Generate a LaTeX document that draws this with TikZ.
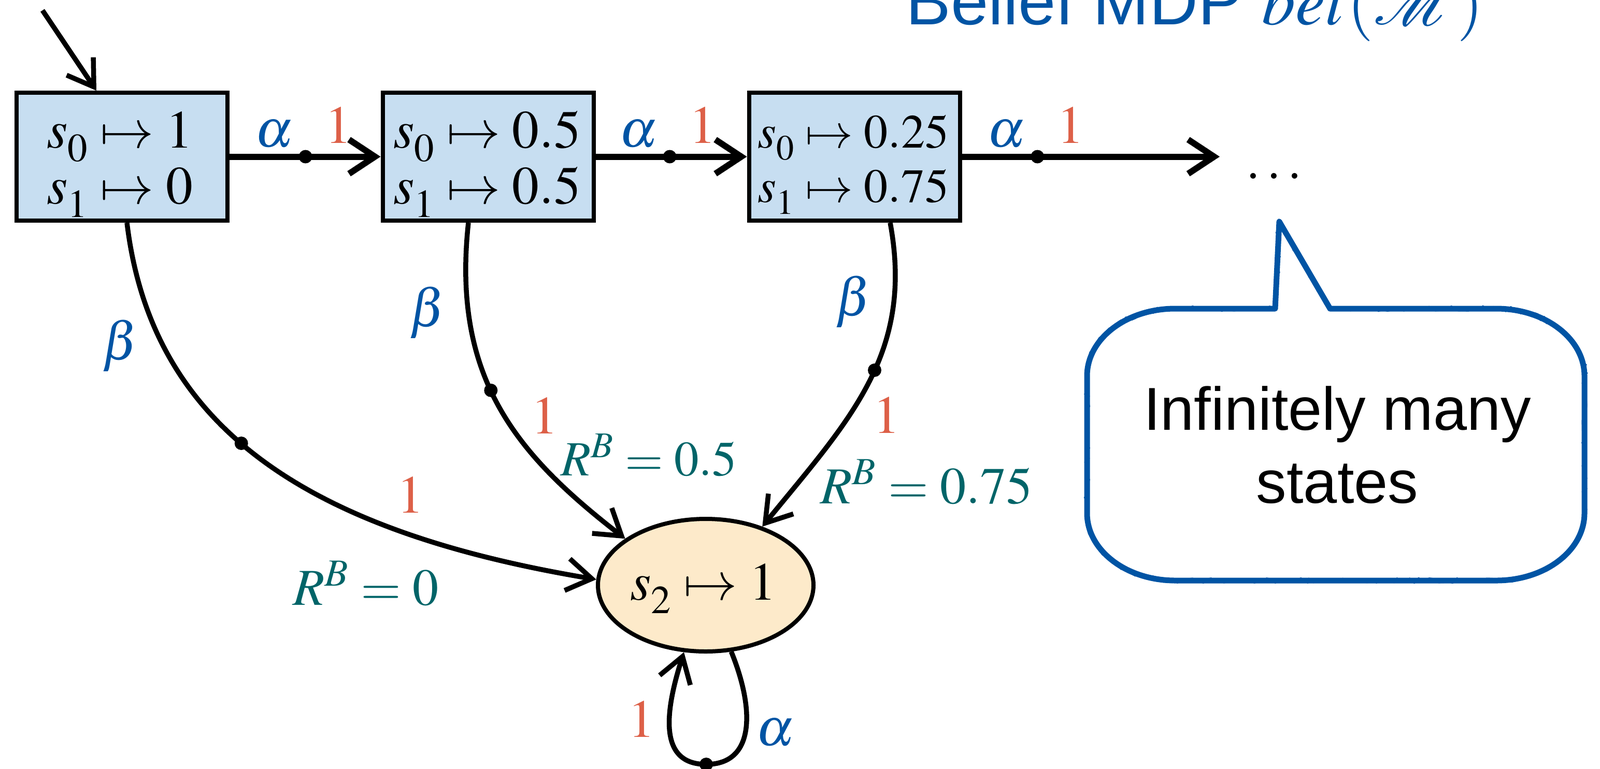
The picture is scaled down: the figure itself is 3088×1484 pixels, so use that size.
\documentclass[tikz,border=0pt]{standalone}
\usepackage{mathptmx}
\usepackage[no-math]{fontspec}
\newfontfamily\hv{Liberation Sans}
\usetikzlibrary{arrows.meta,shapes.geometric,calc,decorations.pathmorphing}
\definecolor{mblue}{RGB}{0,84,164}
\definecolor{mred}{RGB}{221,96,72}
\definecolor{mteal}{RGB}{0,100,104}
\definecolor{boxfill}{RGB}{199,222,241}
\definecolor{ellfill}{RGB}{253,234,202}
\newcommand{\fsz}[1]{\fontsize{#1}{#1}\selectfont}
\newcommand{\lsub}[1]{_{\raisebox{-0.11em}{$\scriptstyle #1$}}}
\tikzset{
  box/.style={draw, line width=0.8mm, fill=boxfill, minimum width=40.7mm, minimum height=24.7mm, inner sep=0},
  ell/.style={ellipse, draw, line width=0.8mm, fill=ellfill, minimum width=41.6mm, minimum height=25.6mm, inner sep=0},
  btxt/.style={anchor=base, inner sep=0, font=\fsz{29.45pt}},
  act/.style={text=mblue, inner sep=0, font=\fsz{29.45pt}},
  prob/.style={text=mred, inner sep=0, font=\fsz{29.45pt}},
  rew/.style={text=mteal, inner sep=0, anchor=base, font=\fsz{28.5pt}},
  harrow/.style={line width=1.2mm, -{Straight Barb[length=5mm,width=6.6mm]}},
  carrow/.style={line width=0.95mm, -{Straight Barb[length=4.8mm,width=6.2mm]}},
  dot/.style={circle, fill=black, inner sep=0, minimum size=2.6mm},
  sans/.style={inner sep=0, anchor=base, font=\hv\fsz{33.3pt}},
  bubble/.style={mblue, line width=1.1mm, line join=round},
  rough/.style={mblue, line width=0.5mm, decorate, decoration={random steps, segment length=0.8mm, amplitude=0.35mm}}
}
\begin{document}
\begin{tikzpicture}[x=0.1mm, y=-0.1mm]
\useasboundingbox (0,0) rectangle (3088,1484);

% title (cut off at top)
\node[anchor=base west, inner sep=0, text=mblue, font=\hv\fsz{37pt}] (title) at (1748,47) {Belief MDP $bel(\mathcal{M})$};

% belief states
\node[box] (b1) at (235.5,302.5) {};
\node[box] (b2) at (942,302.5) {};
\node[box] (b3) at (1649,302.5) {};
\node[btxt] (b1r0) at (231,285) {$s\lsub{0} \mapsto 1$};
\node[btxt] (b1r1) at (231,393) {$s\lsub{1} \mapsto 0$};
\node[btxt] (b2r0) at (940,285) {$s\lsub{0} \mapsto 0.5$};
\node[btxt] (b2r1) at (940,393) {$s\lsub{1} \mapsto 0.5$};
\node[btxt, font=\fsz{26.2pt}] (b3r0) at (1647,285) {$s\lsub{0} \mapsto 0.25$};
\node[btxt, font=\fsz{26.2pt}] (b3r1) at (1647,390) {$s\lsub{1} \mapsto 0.75$};

\node[ell] (s2) at (1362,1130) {};
\node[btxt] (s2t) at (1357,1158) {$s\lsub{2} \mapsto 1$};

% initial arrow
\coordinate (init) at (82,20);
\draw[carrow] (init) -- ([xshift=-4.95mm]b1.north);

% alpha transitions
\coordinate (far) at (2354,302.5);
\draw[harrow] (b1.east) -- node[dot,pos=0.503] (d12) {} (b2.west);
\draw[harrow] (b2.east) -- node[dot,pos=0.49] (d23) {} (b3.west);
\draw[harrow] (b3.east) -- node[dot,pos=0.293] (d3f) {} (far);
\node[act, anchor=base] (a12) at ($(d12)+(-60,-19.5)$) {$\alpha$};
\node[prob, anchor=base] (p12) at ($(d12)+(64,-26.5)$) {$1$};
\node[act, anchor=base] (a23) at ($(d23)+(-60,-19.5)$) {$\alpha$};
\node[prob, anchor=base] (p23) at ($(d23)+(64,-26.5)$) {$1$};
\node[act, anchor=base] (a3f) at ($(d3f)+(-60,-19.5)$) {$\alpha$};
\node[prob, anchor=base] (p3f) at ($(d3f)+(64,-26.5)$) {$1$};
\node[btxt] (dots) at (2459,345) {$\ldots$};

% beta transitions
\draw[carrow] ([xshift=0.95mm]b1.south) .. controls (293,831) and (600,1027) .. (s2.177) node[dot,pos=0.45] (d1s) {};
\draw[carrow] ([xshift=-3.8mm]b2.south) .. controls (871,733) and (1000,880) .. (s2.150) node[dot,pos=0.44] (d2s) {};
\draw[carrow] ([xshift=6.9mm]b3.south) .. controls (1765,684) and (1638,812) .. (s2.46) node[dot,pos=0.45] (d3s) {};

\node[act] (be1) at (232,668) {$\beta$};
\node[act] (be2) at (825,604) {$\beta$};
\node[act] (be3) at (1647,583) {$\beta$};
\node[prob] (q1) at (792,956) {$1$};
\node[prob] (q2) at (1051,803) {$1$};
\node[prob] (q3) at (1711,802) {$1$};
\node[rew] (r1) at (706,1168) {$R^B = 0$};
\node[rew, anchor=base west, font=\fsz{27pt}] (r2) at (1082,918) {$R^B = 0.5$};
\node[rew] (r3) at (1788,972) {$R^B = 0.75$};

% self loop
\coordinate (lb) at (1363,1476);
\draw[carrow] (s2.-69) .. controls +(45,110) and +(95,0) .. (lb) .. controls +(-95,0) and +(-35,110) .. (s2.-108);
\node[dot] (ld) at (lb) {};
\node[prob] (l1) at (1238,1389) {$1$};
\node[act] (la) at (1496,1415) {$\alpha$};

% speech bubble
\draw[bubble]
  (2268,596) -- (2461,596) -- (2469,428) -- (2567,596) -- (2888,596)
  .. controls (2982,596) and (3058,654) .. (3058,726)
  -- (3058,991)
  .. controls (3058,1063) and (2982,1121) .. (2888,1121)
  -- (2268,1121)
  .. controls (2174,1121) and (2098,1063) .. (2098,991)
  -- (2098,726)
  .. controls (2098,654) and (2174,596) .. (2268,596) -- cycle;
\draw[rough]
  (2268,596) -- (2461,596) -- (2469,428) -- (2567,596) -- (2888,596)
  .. controls (2982,596) and (3058,654) .. (3058,726)
  -- (3058,991)
  .. controls (3058,1063) and (2982,1121) .. (2888,1121)
  -- (2268,1121)
  .. controls (2174,1121) and (2098,1063) .. (2098,991)
  -- (2098,726)
  .. controls (2098,654) and (2174,596) .. (2268,596) -- cycle;
\node[sans] (bt1) at (2581,830) {Infinitely many};
\node[sans] (bt2) at (2581,971) {states};
\end{tikzpicture}
\end{document}
